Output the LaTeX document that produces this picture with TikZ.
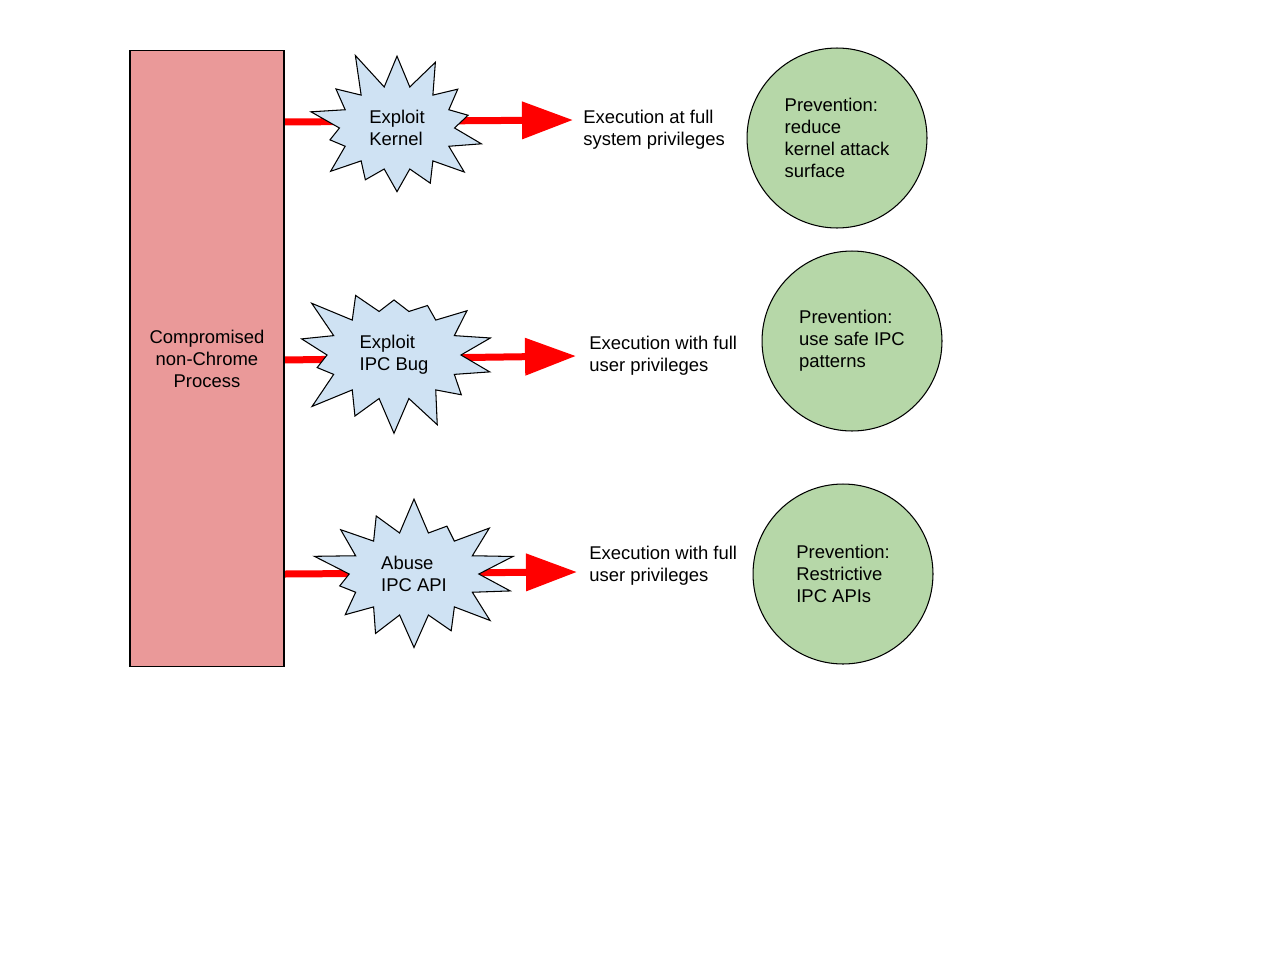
\documentclass[tikz,border=0pt]{standalone}
\usepackage{fontspec}
\setmainfont{Liberation Sans}
\usetikzlibrary{positioning,arrows.meta,shapes.symbols,backgrounds}
\definecolor{procred}{HTML}{EA9999}
\definecolor{burstblue}{HTML}{CFE2F3}
\definecolor{prevgreen}{HTML}{B6D7A8}

\begin{document}
\begin{tikzpicture}[
    x=0.02cm, y=-0.02cm,
    font=\fontsize{10.5}{12.5}\selectfont,
    process/.style={draw, line width=0.6pt, fill=procred, minimum width=3.08cm, minimum height=12.34cm, align=center},
    burst/.style={starburst, draw, line width=0.6pt, fill=burstblue, starburst points=14, starburst point height=0.8cm, inner xsep=0.26cm, inner ysep=0.24cm, align=left},
    prevent/.style={circle, draw, line width=0.6pt, fill=prevgreen, minimum size=3.6cm, align=left},
    result/.style={anchor=west, align=left, inner sep=0pt},
    attack/.style={-{Triangle[length=1.02cm, width=0.72cm]}, line width=0.14cm, red}
]
\useasboundingbox (0,0) rectangle (1280,960);

\node[process] (proc) at (207,358.5) {Compromised\\non-Chrome\\Process};

\node[burst, random starburst=11] (kernel) at (397,128) {Exploit\\Kernel};
\node[burst, random starburst=23] (ipcbug) at (394,355) {Exploit\\IPC Bug};
\node[burst, random starburst=37] (ipcapi) at (414,574) {Abuse\\IPC API};

\coordinate (tip1) at (573,120);
\coordinate (tip2) at (576,356);
\coordinate (tip3) at (577,572);

\node[result] (exec1) at (583,130) {Execution at full\\system privileges};
\node[result] (exec2) at (589,356) {Execution with full\\user privileges};
\node[result] (exec3) at (589,566) {Execution with full\\user privileges};

\node[prevent] (prev1) at (837,138) {Prevention:\\reduce\\kernel attack\\surface};
\node[prevent] (prev2) at (852,341) {Prevention:\\use safe IPC\\patterns};
\node[prevent] (prev3) at (843,574) {Prevention:\\Restrictive\\IPC APIs};

% red attack arrows run behind the bursts
\begin{scope}[on background layer]
\draw[attack] (proc.east |- 0,122) -- (tip1);
\draw[attack] (proc.east |- 0,360) -- (tip2);
\draw[attack] (proc.east |- 0,574) -- (tip3);
\end{scope}
\end{tikzpicture}
\end{document}
